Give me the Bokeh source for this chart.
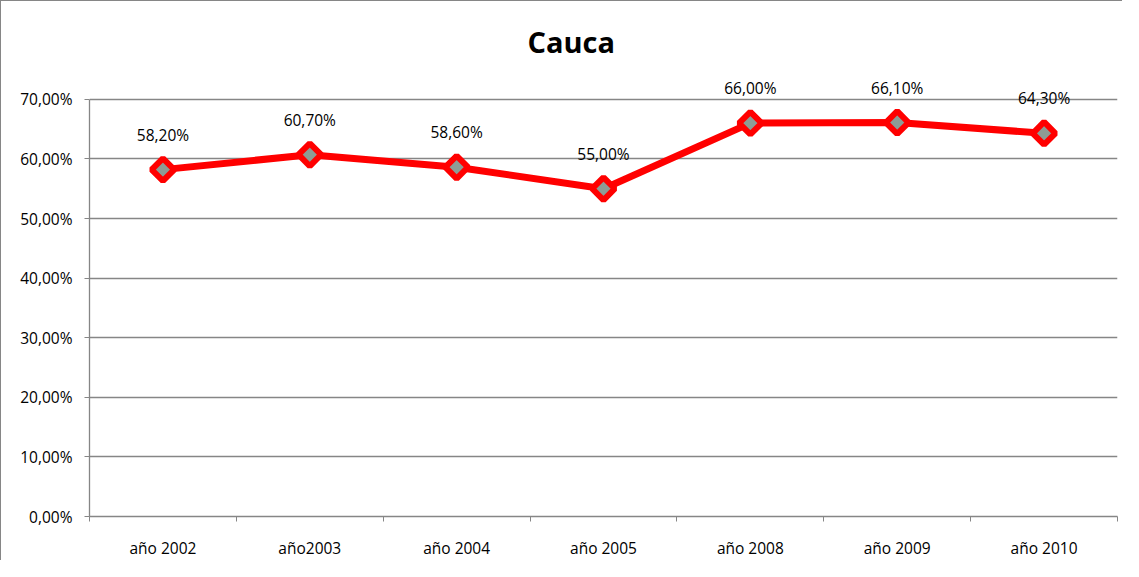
import math
from bokeh.plotting import figure
from bokeh.models import (ColumnDataSource, Range1d, FixedTicker, LabelSet, Title)
from bokeh.core.properties import value
from bokeh.embed import file_html
from bokeh.resources import INLINE

# ---- data ----
categories = ["año 2002", "año2003", "año 2004", "año 2005", "año 2008", "año 2009", "año 2010"]
values = [58.2, 60.7, 58.6, 55.0, 66.0, 66.1, 64.3]
y_ticks = [0, 10, 20, 30, 40, 50, 60, 70]
title_text = "Cauca"

def pct(v):
    return f"{v:.2f}".replace(".", ",") + "%"

xs = [i + 0.5 for i in range(len(categories))]
src = ColumnDataSource(dict(x=xs, y=values, lbl=[pct(v) for v in values]))

FONT = "Open Sans"
GRAY = "#868686"
FS = "15.5px"

p = figure(width=1122, height=560, output_backend="svg", toolbar_location=None,
           x_range=Range1d(0, len(categories)), y_range=Range1d(0, 75),
           min_border_left=88, min_border_right=6, min_border_top=68, min_border_bottom=37)
p.styles = {"border-left": "1px solid #868686", "border-top": "1px solid #868686"}

p.outline_line_color = None
p.background_fill_color = "white"
p.border_fill_color = "white"

# title
p.title = Title(text=title_text, align="left", text_font=FONT, text_font_size="29px",
                text_font_style="bold", text_color="black", standoff=18, offset=438)

# grids
p.xgrid.grid_line_color = None
p.ygrid.ticker = FixedTicker(ticks=y_ticks[1:])
p.ygrid.grid_line_color = GRAY
p.ygrid.grid_line_width = 1.3

# y axis
p.yaxis.ticker = FixedTicker(ticks=y_ticks)
p.yaxis.bounds = (y_ticks[0], y_ticks[-1])
p.yaxis.major_label_overrides = {t: pct(t) for t in y_ticks}
p.yaxis.axis_line_color = GRAY
p.yaxis.axis_line_width = 1.3
p.yaxis.major_tick_line_color = GRAY
p.yaxis.major_tick_out = 5
p.yaxis.major_tick_in = 0
p.yaxis.minor_tick_line_color = None
p.yaxis.major_label_standoff = 12
p.yaxis.major_label_text_font = FONT
p.yaxis.major_label_text_font_size = FS
p.yaxis.major_label_text_color = "black"

# x axis: labels at centers, ticks at category boundaries
p.xaxis.ticker = FixedTicker(ticks=xs, minor_ticks=list(range(len(categories) + 1)))
p.xaxis.major_label_overrides = {x: c for x, c in zip(xs, categories)}
p.xaxis.axis_line_color = GRAY
p.xaxis.axis_line_width = 1.3
p.xaxis.major_tick_line_color = None
p.xaxis.major_tick_out = 0
p.xaxis.major_tick_in = 0
p.xaxis.minor_tick_line_color = GRAY
p.xaxis.minor_tick_out = 5
p.xaxis.minor_tick_in = 0
p.xaxis.major_label_standoff = 15
p.xaxis.major_label_text_font = FONT
p.xaxis.major_label_text_font_size = FS
p.xaxis.major_label_text_color = "black"

# line & markers
p.line("x", "y", source=src, line_color="#FF0000", line_width=7)
p.scatter("x", "y", source=src, marker="square", angle=math.pi / 4, size=16,
          line_color="#FF0000", line_width=6, fill_color="#8E9C95")

labels = LabelSet(x="x", y="y", text="lbl", source=src, y_offset=35,
                  text_align="center", text_baseline="middle",
                  text_font=value(FONT), text_font_size=value(FS), text_color="black")
p.add_layout(labels)

open("out.html", "w").write(file_html(p, INLINE))
